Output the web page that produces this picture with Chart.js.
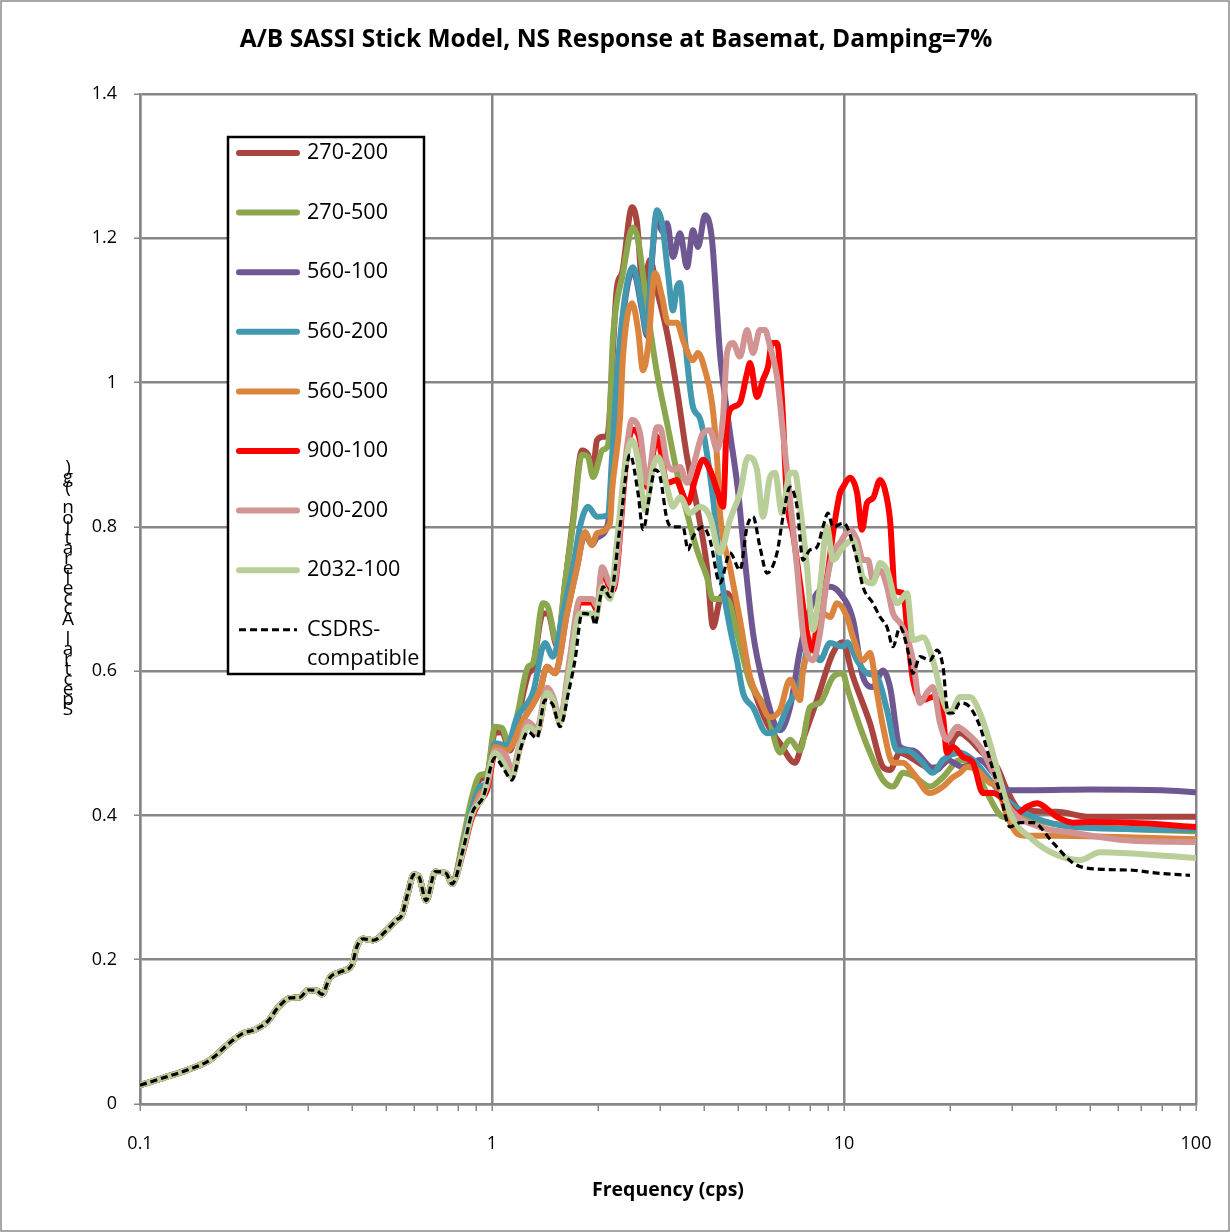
<!DOCTYPE html>
<html><head><meta charset="utf-8">
<script src="https://cdn.jsdelivr.net/npm/chart.js@4/dist/chart.umd.min.js"></script>
<style>html,body{margin:0;padding:0;background:#fff;}#wrap{width:1230px;height:1232px;}</style>
</head><body><div id="wrap"><canvas id="c" width="1230" height="1232"></canvas></div>
<script>
// ---------- DATA ----------
const seriesNames = ['270-200','270-500','560-100','560-200','560-500','900-100','900-200','2032-100','CSDRS-compatible'];
const xTickLabels = ['0.1','1','10','100'];
const yTickValues = [0,0.2,0.4,0.6,0.8,1.0,1.2,1.4];

// common low-frequency part (all curves coincide)
const lowFreq = [0.1,0.116,0.136,0.158,0.18,0.196,0.212,0.23,0.247,0.267,0.285,0.30,0.318,0.329,0.346,0.37,0.40,0.413,0.43,0.46,0.50,0.535,0.555,0.575,0.60,0.62,0.65,0.69,0.74,0.77];
const lowVals = [0.026,0.036,0.047,0.061,0.085,0.098,0.103,0.114,0.134,0.147,0.148,0.158,0.157,0.152,0.175,0.183,0.193,0.218,0.229,0.227,0.240,0.255,0.262,0.29,0.318,0.315,0.282,0.322,0.320,0.305];

const f_270_200 = [0.83,0.877,0.925,0.968,1.02,1.068,1.125,1.185,1.266,1.307,1.396,1.442,1.53,1.612,1.699,1.802,1.874,1.936,1.987,2.067,2.122,2.265,2.34,2.499,2.582,2.685,2.811,2.943,3.142,3.354,3.581,3.823,4.082,4.245,4.443,4.652,5.408,6.043,6.579,7.258,7.647,8.38,9.3,9.9,10.61,11.85,12.91,13.51,14.42,15.5,17.55,19.62,20.41,21.36,22.8,24.34,27.21,29.04,31.62,40.29,50,100];
const v_270_200 = [0.365,0.42,0.45,0.455,0.515,0.515,0.49,0.535,0.595,0.605,0.68,0.68,0.635,0.72,0.81,0.906,0.90,0.88,0.92,0.925,0.925,1.133,1.152,1.243,1.221,1.128,1.17,1.128,1.069,0.99,0.897,0.828,0.744,0.661,0.70,0.708,0.59,0.528,0.50,0.473,0.505,0.56,0.625,0.64,0.592,0.528,0.467,0.463,0.487,0.48,0.466,0.477,0.505,0.514,0.505,0.49,0.467,0.435,0.408,0.405,0.398,0.398];

const f_270_500 = [0.83,0.877,0.925,0.968,1.02,1.068,1.125,1.185,1.266,1.307,1.396,1.442,1.53,1.612,1.699,1.802,1.874,1.936,2.067,2.136,2.207,2.356,2.515,2.599,2.756,2.943,3.142,3.354,3.581,3.823,4.082,4.245,4.652,4.966,5.408,6.043,6.579,7.025,7.499,8.005,8.546,9.307,9.935,10.2,11.1,12.09,12.91,13.78,14.71,15.7,17.55,19.11,21.36,23.26,25.48,28.29,33.1,40,60,100];
const v_270_500 = [0.37,0.425,0.456,0.459,0.523,0.521,0.495,0.543,0.606,0.611,0.694,0.689,0.639,0.722,0.805,0.90,0.897,0.869,0.907,0.913,1.063,1.152,1.215,1.198,1.105,1.013,0.944,0.875,0.819,0.768,0.73,0.70,0.70,0.653,0.584,0.546,0.487,0.505,0.49,0.55,0.556,0.592,0.597,0.578,0.523,0.477,0.449,0.44,0.459,0.455,0.44,0.453,0.477,0.467,0.431,0.398,0.395,0.388,0.382,0.378];

const f_560_100 = [0.83,0.877,0.925,0.968,1.02,1.103,1.225,1.369,1.433,1.51,1.633,1.744,1.837,1.924,1.987,2.136,2.193,2.31,2.515,2.668,2.756,2.848,2.943,3.041,3.142,3.268,3.421,3.581,3.724,3.848,4.029,4.217,4.357,4.443,4.652,4.744,5.0,5.166,5.514,5.886,6.579,7.025,7.499,8.005,8.38,9.125,9.742,10.61,11.32,12.09,12.91,13.51,14.42,15.7,17.55,18.37,19.62,21.79,24.34,26.51,29.04,35,50,80,100];
const v_560_100 = [0.358,0.40,0.43,0.44,0.495,0.49,0.532,0.574,0.606,0.597,0.68,0.744,0.79,0.775,0.785,0.805,0.88,1.05,1.155,1.10,1.065,1.17,1.235,1.21,1.221,1.174,1.207,1.16,1.211,1.188,1.232,1.198,1.10,1.04,0.96,0.93,0.85,0.78,0.653,0.584,0.518,0.55,0.629,0.685,0.708,0.717,0.708,0.671,0.592,0.578,0.601,0.578,0.495,0.49,0.467,0.463,0.477,0.467,0.477,0.459,0.435,0.435,0.436,0.435,0.432];

const f_560_200 = [0.83,0.877,0.925,0.968,1.02,1.103,1.178,1.307,1.414,1.49,1.591,1.699,1.778,1.874,1.987,2.136,2.193,2.31,2.515,2.668,2.756,2.848,2.943,3.041,3.162,3.268,3.354,3.421,3.535,3.724,3.899,4.245,4.443,4.744,4.966,5.166,5.514,6.043,6.452,6.889,7.499,8.005,8.546,9.125,9.935,10.2,10.89,11.62,12.41,13.25,14.15,15.1,16.44,17.89,19.11,21.36,23.26,25.99,29.04,34.43,44.73,100];
const v_560_200 = [0.36,0.41,0.44,0.445,0.50,0.497,0.536,0.57,0.639,0.62,0.68,0.744,0.80,0.828,0.814,0.816,0.897,1.059,1.16,1.105,1.069,1.174,1.239,1.221,1.152,1.10,1.133,1.138,1.059,0.966,0.95,0.84,0.744,0.66,0.615,0.57,0.55,0.514,0.518,0.55,0.584,0.639,0.615,0.639,0.634,0.64,0.615,0.597,0.592,0.546,0.49,0.49,0.477,0.459,0.477,0.487,0.477,0.449,0.421,0.398,0.384,0.38];

const f_560_500 = [0.83,0.877,0.925,0.968,1.02,1.103,1.225,1.369,1.433,1.51,1.633,1.744,1.837,1.924,1.987,2.164,2.193,2.31,2.356,2.499,2.6,2.685,2.775,2.904,3.041,3.162,3.354,3.488,3.724,3.848,4.029,4.217,4.357,4.443,4.744,5.064,5.408,5.772,6.163,6.579,7.025,7.499,7.647,8.164,8.715,9.125,9.553,10.2,10.61,11.32,11.85,12.41,12.91,13.78,14.71,15.7,17.55,19.11,20.41,21.36,22.36,23.87,25.99,27.21,29.04,31.01,33,40,60,100];
const v_560_500 = [0.358,0.40,0.43,0.44,0.495,0.49,0.532,0.574,0.606,0.597,0.68,0.744,0.793,0.775,0.791,0.805,0.85,0.95,1.036,1.11,1.073,1.017,1.049,1.152,1.119,1.083,1.083,1.059,1.031,1.041,1.017,0.972,0.897,0.819,0.744,0.671,0.592,0.56,0.536,0.546,0.588,0.56,0.60,0.639,0.68,0.675,0.694,0.675,0.647,0.615,0.625,0.57,0.523,0.473,0.473,0.459,0.431,0.44,0.453,0.459,0.467,0.463,0.445,0.44,0.40,0.375,0.372,0.372,0.37,0.367];

const f_900_100 = [0.83,0.877,0.925,0.968,1.02,1.103,1.14,1.201,1.266,1.342,1.433,1.49,1.56,1.666,1.778,1.924,1.987,2.054,2.164,2.207,2.418,2.499,2.633,2.756,2.943,3.142,3.354,3.421,3.605,3.773,3.976,4.162,4.357,4.532,4.652,4.837,5.064,5.303,5.408,5.66,5.886,6.083,6.244,6.452,6.666,6.889,7.164,7.499,7.85,8.164,8.546,8.947,9.307,9.742,9.935,10.4,10.89,11.25,11.62,12.09,12.66,13.08,13.51,13.96,14.71,15.2,15.7,16.77,17.89,19.11,19.62,20.41,21.79,23.26,24.82,26.51,29.04,31.01,33.11,35.35,40.29,44.73,50,69.34,100];
const v_900_100 = [0.352,0.397,0.42,0.435,0.485,0.475,0.455,0.495,0.525,0.515,0.572,0.56,0.53,0.615,0.695,0.695,0.685,0.738,0.715,0.712,0.90,0.935,0.92,0.855,0.925,0.861,0.865,0.855,0.833,0.865,0.893,0.879,0.851,0.828,0.944,0.966,0.972,1.013,1.027,0.98,1.004,1.022,1.055,1.055,0.976,0.837,0.791,0.722,0.653,0.629,0.70,0.73,0.791,0.847,0.855,0.868,0.847,0.796,0.833,0.84,0.865,0.851,0.81,0.712,0.708,0.647,0.588,0.56,0.564,0.536,0.487,0.495,0.481,0.473,0.431,0.431,0.417,0.403,0.412,0.417,0.398,0.39,0.391,0.389,0.384];

const f_900_200 = [0.83,0.877,0.925,0.968,1.02,1.103,1.14,1.201,1.266,1.342,1.433,1.49,1.56,1.666,1.778,1.924,1.987,2.054,2.164,2.207,2.418,2.499,2.633,2.756,2.943,3.001,3.142,3.268,3.421,3.581,3.724,3.976,4.162,4.357,4.532,4.652,4.837,5.064,5.303,5.514,5.772,5.964,6.163,6.452,6.71,7.025,7.354,7.647,7.85,8.164,8.546,8.947,9.307,9.742,10.4,10.89,11.32,11.7,12.09,12.66,13.25,13.78,14.42,15.1,15.7,16.44,17.21,17.89,18.74,19.62,20.94,22.36,24.34,27.21,29.62,36.05,44.73,62.02,100];
const v_900_200 = [0.355,0.40,0.425,0.44,0.49,0.48,0.46,0.50,0.53,0.52,0.577,0.565,0.535,0.62,0.70,0.70,0.69,0.744,0.72,0.717,0.911,0.948,0.93,0.861,0.938,0.938,0.889,0.879,0.883,0.861,0.883,0.93,0.934,0.907,0.952,1.041,1.055,1.036,1.073,1.041,1.073,1.073,1.05,1.008,0.93,0.837,0.744,0.653,0.625,0.615,0.653,0.726,0.764,0.778,0.796,0.782,0.754,0.754,0.726,0.74,0.717,0.68,0.667,0.647,0.615,0.556,0.57,0.578,0.528,0.505,0.523,0.514,0.495,0.449,0.41,0.384,0.376,0.366,0.363];

const f_2032_100 = [0.83,0.877,0.943,1.02,1.075,1.14,1.201,1.266,1.342,1.433,1.49,1.56,1.666,1.778,1.924,1.962,2.054,2.164,2.265,2.387,2.499,2.599,2.721,2.867,2.962,3.142,3.268,3.421,3.652,3.899,4.162,4.443,4.744,5.064,5.337,5.66,5.886,6.163,6.368,6.666,7.025,7.258,7.499,7.85,8.164,8.546,8.947,9.307,9.935,10.61,11.32,12.09,12.66,13.25,14.15,15.1,15.7,16.77,17.89,19.11,20.01,21.36,22.8,24.34,25.99,27.75,29.62,34.43,40.29,46.83,53.37,62.02,100];
const v_2032_100 = [0.355,0.403,0.425,0.487,0.474,0.453,0.495,0.523,0.516,0.57,0.56,0.53,0.606,0.68,0.68,0.67,0.717,0.70,0.78,0.883,0.92,0.893,0.823,0.883,0.897,0.855,0.828,0.841,0.819,0.828,0.814,0.764,0.81,0.847,0.897,0.879,0.814,0.869,0.875,0.819,0.875,0.875,0.828,0.744,0.657,0.717,0.80,0.754,0.772,0.782,0.73,0.722,0.75,0.74,0.694,0.708,0.643,0.647,0.615,0.56,0.542,0.564,0.564,0.542,0.50,0.449,0.403,0.366,0.345,0.338,0.349,0.348,0.341];

const f_csdrs = [0.83,0.877,0.943,1.02,1.075,1.14,1.201,1.266,1.342,1.414,1.49,1.56,1.655,1.721,1.802,1.924,1.962,2.027,2.067,2.164,2.31,2.466,2.599,2.685,2.811,2.904,3.001,3.142,3.268,3.488,3.605,3.724,3.976,4.162,4.443,4.744,5.064,5.303,5.514,5.772,6.043,6.452,6.71,7.025,7.354,7.647,8.005,8.38,8.715,9.006,9.307,9.935,10.2,10.89,11.32,12.09,12.66,13.25,13.78,14.42,15.1,15.7,16.44,17.55,18.37,19.11,19.75,20.41,21.36,22.8,24.34,25.99,27.75,29.62,31.62,34.43,39.26,44.73,49.01,66.22,77.48,96.16];
const v_csdrs = [0.355,0.403,0.425,0.48,0.466,0.449,0.49,0.516,0.507,0.56,0.553,0.523,0.574,0.615,0.68,0.677,0.664,0.70,0.717,0.703,0.80,0.90,0.847,0.796,0.847,0.879,0.87,0.81,0.80,0.80,0.768,0.786,0.80,0.782,0.722,0.764,0.74,0.80,0.814,0.772,0.736,0.764,0.814,0.855,0.828,0.754,0.768,0.772,0.80,0.819,0.80,0.805,0.80,0.754,0.717,0.694,0.675,0.661,0.634,0.661,0.634,0.597,0.62,0.615,0.629,0.606,0.542,0.542,0.556,0.55,0.523,0.477,0.431,0.384,0.39,0.39,0.362,0.334,0.327,0.324,0.32,0.317];

// ---------- STYLE ----------
const FONT = "'Open Sans','Noto Sans','DejaVu Sans',sans-serif";
const GRID = '#878787';
const colors = ['#A9443F','#8BA64C','#6F5791','#4298AF','#DB843D','#FF0000','#D29393','#B9CE98','#000000'];
const freqArrays = [f_270_200,f_270_500,f_560_100,f_560_200,f_560_500,f_900_100,f_900_200,f_2032_100,f_csdrs];
const valArrays  = [v_270_200,v_270_500,v_560_100,v_560_200,v_560_500,v_900_100,v_900_200,v_2032_100,v_csdrs];

function toPoints(fs, vs){
  const F = lowFreq.concat(fs), V = lowVals.concat(vs);
  const n = Math.min(F.length, V.length);
  const out = [];
  for (let i=0;i<n;i++) out.push({x:F[i], y:V[i]});
  return out;
}
const datasets = seriesNames.map((name,i)=>{
  const dashed = i === 8;
  return {
    label: name,
    data: toPoints(freqArrays[i], valArrays[i]),
    borderColor: colors[i],
    backgroundColor: colors[i],
    borderWidth: dashed ? 3.2 : 6,
    borderDash: dashed ? [7,4] : [],
    pointRadius: 0,
    fill: false,
    tension: 0.3,
    cubicInterpolationMode: 'monotone',
    borderJoinStyle: 'round',
    borderCapStyle: dashed ? 'butt' : 'round',
    order: 8 - i
  };
});

const isDecade = v => { const l = Math.log10(v); return Math.abs(l - Math.round(l)) < 1e-6; };
const xTickValues = [];
[0.1,1,10].forEach(d => { for (let k=1;k<=9;k++) xTickValues.push(+(d*k).toPrecision(3)); });
xTickValues.push(100);

Chart.defaults.font.family = FONT;
Chart.defaults.color = '#000';

function fitSize(ctx, text, weight, target, base){
  ctx.font = weight + ' ' + base + 'px ' + FONT;
  const w = ctx.measureText(text).width;
  return base * target / w;
}

const decor = {
  id: 'decor',
  beforeDraw(chart){
    const c = chart.ctx;
    c.save();
    c.fillStyle = '#fff';
    c.fillRect(0,0,chart.width,chart.height);
    c.strokeStyle = '#8a8a8a';
    c.lineWidth = 1.5;
    c.strokeRect(1,1,chart.width-2,chart.height-2);
    c.restore();
  },
  afterDraw(chart){
    const c = chart.ctx;
    const ca = chart.chartArea;
    c.save();
    c.fillStyle = '#000';
    // title
    const title = 'A/B SASSI Stick Model, NS Response at Basemat, Damping=7%';
    let s = fitSize(c, title, 'bold', 753, 22);
    c.font = 'bold ' + s + 'px ' + FONT;
    c.textAlign = 'center'; c.textBaseline = 'middle';
    c.fillText(title, 616, 40);
    // x title
    const xt = 'Frequency (cps)';
    s = fitSize(c, xt, 'bold', 152, 18);
    c.font = 'bold ' + s + 'px ' + FONT;
    c.fillText(xt, (ca.left+ca.right)/2, 1190);
    // y title (stacked characters, as in the original)
    const yt = 'Spectral Acceleration (g)';
    c.font = '19px ' + FONT;
    c.textBaseline = 'middle';
    for (let i=0;i<yt.length;i++){
      c.fillText(yt[i], 68, 710 - i*10.1);
    }
    // legend
    const L = 228, T = 137, R = 424, B = 674;
    c.fillStyle = '#fff';
    c.fillRect(L,T,R-L,B-T);
    c.strokeStyle = '#000';
    c.lineWidth = 2.5;
    c.strokeRect(L,T,R-L,B-T);
    const ls = fitSize(c, '270-200', 'normal', 81, 18);
    c.font = ls + 'px ' + FONT;
    c.textAlign = 'left';
    c.textBaseline = 'middle';
    const step = 59.6;
    datasets.forEach((d,i)=>{
      const y = 153 + i*step;
      c.save();
      c.strokeStyle = d.borderColor;
      c.lineWidth = i===8 ? 3 : 6;
      c.lineCap = i===8 ? 'butt' : 'round';
      c.setLineDash(d.borderDash);
      c.beginPath(); c.moveTo(239, y); c.lineTo(297, y); c.stroke();
      c.restore();
      c.fillStyle = '#000';
      if (i === 8){
        c.fillText('CSDRS-', 307, y);
        c.fillText('compatible', 307, y + 29);
      } else {
        c.fillText(d.label, 307, y);
      }
    });
    c.restore();
  }
};

new Chart(document.getElementById('c'), {
  type: 'line',
  data: { datasets },
  options: {
    responsive: false,
    animation: false,
    layout: { padding: { left: 0, right: 34, top: 94, bottom: 0 } },
    plugins: { legend: { display: false }, tooltip: { enabled: false }, title: { display: false } },
    scales: {
      x: {
        type: 'logarithmic', min: 0.1, max: 100,
        afterBuildTicks: s => { s.ticks = xTickValues.map(v => ({ value: v })); },
        afterFit: s => { s.height = 128; s.paddingLeft = 0; s.paddingRight = 0; },
        grid: {
          color: ctx => (ctx.tick && isDecade(ctx.tick.value)) ? GRID : 'rgba(0,0,0,0)',
          lineWidth: 2.5, drawTicks: true, tickLength: 7, tickColor: GRID, tickWidth: 1.5
        },
        border: { color: GRID, width: 2.5 },
        ticks: {
          autoSkip: false, maxRotation: 0, minRotation: 0, padding: 22,
          font: { size: 18 },
          callback: v => isDecade(v) ? String(+v.toPrecision(3)) : ''
        }
      },
      y: {
        type: 'linear', min: 0, max: 1.4,
        afterBuildTicks: s => { s.ticks = yTickValues.map(v => ({ value: v })); },
        afterFit: s => { s.width = 140; s.paddingTop = 0; s.paddingBottom = 0; },
        grid: { color: GRID, lineWidth: 2.5, drawTicks: true, tickLength: 6, tickColor: GRID, tickWidth: 1.5 },
        border: { color: GRID, width: 2.5 },
        ticks: { padding: 17, font: { size: 18 }, callback: v => String(+(+v).toFixed(1)) }
      }
    }
  },
  plugins: [decor]
});
</script>
</body></html>
